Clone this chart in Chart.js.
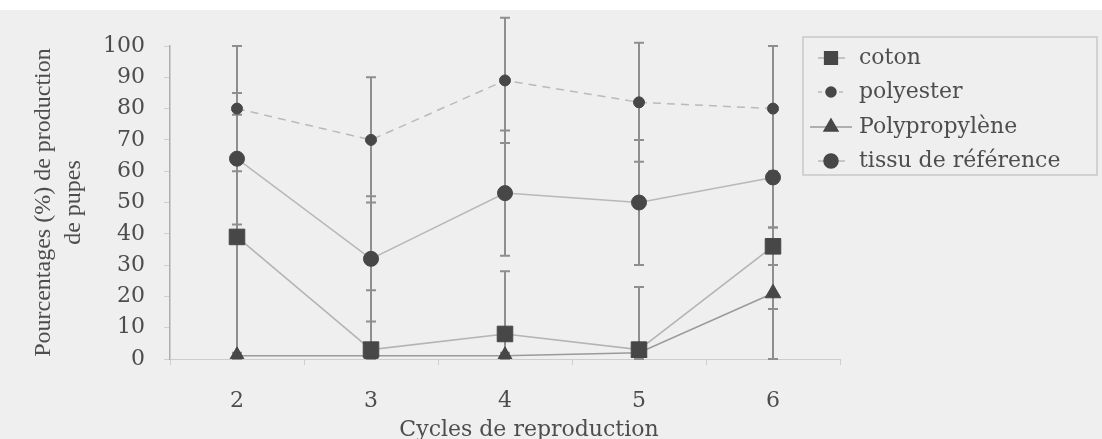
<!DOCTYPE html>
<html>
<head>
<meta charset="utf-8">
<script src="https://cdn.jsdelivr.net/npm/chart.js@4.4.1/dist/chart.umd.min.js"></script>
<style>
html,body{margin:0;padding:0;background:#efefef;overflow:hidden;}
canvas{display:block;}
</style>
</head>
<body>
<canvas id="c" width="1102" height="439"></canvas>
<script>
// ---- data ----
const categories = ['2', '3', '4', '5', '6'];
const coton = [39, 3, 8, 3, 36];
const polyester = [80, 70, 89, 82, 80];
const polypropylene = [1, 1, 1, 2, 21];
const reference = [64, 32, 53, 50, 58];
const cotonErr = [39, 19, 20, 20, 6];
const polyesterErr = [20, 20, 20, 19, 20];
const polypropyleneErr = [1, 1, 1, 1, 21];
const referenceErr = [21, 20, 20, 20, 42];
const seriesNames = ['coton', 'polyester', 'Polypropylène', 'tissu de référence'];
const yTitleLines = ['Pourcentages (%) de production', 'de pupes'];
const xTitle = 'Cycles de reproduction';

const TEXT = '#4d4d4d';
const MARK = '#474747';
const HFONT = "'DejaVu Serif', serif";
const VFONT = "'Liberation Serif', 'Times New Roman', serif";

const errorsByDataset = [cotonErr, polyesterErr, polypropyleneErr, referenceErr];

const bgPlugin = {
  id: 'bg',
  beforeDraw(chart) {
    const ctx = chart.ctx;
    ctx.save();
    ctx.fillStyle = '#efefef';
    ctx.fillRect(0, 0, chart.width, chart.height);
    ctx.fillStyle = '#ffffff';
    ctx.fillRect(0, 0, chart.width, 10);
    ctx.restore();
  }
};

const errPlugin = {
  id: 'errbars',
  beforeDatasetsDraw(chart) {
    const ctx = chart.ctx;
    const ys = chart.scales.y;
    ctx.save();
    ctx.strokeStyle = '#8e8e8e';
    ctx.lineWidth = 2;
    chart.data.datasets.forEach((ds, i) => {
      const meta = chart.getDatasetMeta(i);
      const errs = errorsByDataset[i];
      meta.data.forEach((pt, j) => {
        const v = ds.data[j], e = errs[j];
        const x = pt.x;
        const yHi = ys.getPixelForValue(v + e);
        const yLo = ys.getPixelForValue(Math.max(0, v - e));
        ctx.beginPath();
        ctx.moveTo(x, yHi); ctx.lineTo(x, yLo);
        ctx.moveTo(x - 5, yHi); ctx.lineTo(x + 5, yHi);
        ctx.moveTo(x - 5, yLo); ctx.lineTo(x + 5, yLo);
        ctx.stroke();
      });
    });
    ctx.restore();
  }
};

const xTitlePlugin = {
  id: 'xTitle',
  afterDraw(chart) {
    const ctx = chart.ctx;
    ctx.save();
    ctx.fillStyle = TEXT;
    ctx.font = '22px ' + HFONT;
    ctx.textAlign = 'center';
    ctx.textBaseline = 'middle';
    ctx.fillText(xTitle, 529, 430);
    ctx.restore();
  }
};

const legendPlugin = {
  id: 'customLegend',
  afterDraw(chart) {
    const ctx = chart.ctx;
    ctx.save();
    ctx.strokeStyle = '#c9c9c9';
    ctx.lineWidth = 1.5;
    ctx.strokeRect(803, 37, 294, 138);
    const rows = [58, 92, 127, 161];
    chart.data.datasets.forEach((ds, i) => {
      const y = rows[i];
      const mx = 831;
      if (ds.borderDash && ds.borderDash.length) ctx.setLineDash([4, 3]); else ctx.setLineDash([]);
      ctx.strokeStyle = ds.borderColor;
      ctx.lineWidth = 1.5;
      ctx.beginPath();
      ctx.moveTo(i === 2 ? 810 : 818, y);
      ctx.lineTo(i === 2 ? 852 : 845, y);
      ctx.stroke();
      ctx.setLineDash([]);
      ctx.fillStyle = MARK;
      ctx.strokeStyle = MARK;
      Chart.helpers.drawPoint(ctx, {
        pointStyle: ds.pointStyle,
        radius: ds.legendRadius,
        rotation: 0,
        borderWidth: 1
      }, mx, y);
      ctx.fill();
      ctx.fillStyle = TEXT;
      ctx.font = '22px ' + HFONT;
      ctx.textBaseline = 'middle';
      ctx.textAlign = 'left';
      ctx.fillText(ds.label, 859, y);
    });
    ctx.restore();
  }
};

const pointCommon = {
  pointBackgroundColor: MARK,
  pointBorderColor: MARK,
  pointBorderWidth: 1
};

new Chart(document.getElementById('c'), {
  type: 'line',
  data: {
    labels: categories,
    datasets: [
      Object.assign({
        label: seriesNames[0], data: coton,
        borderColor: '#b4b4b4', borderWidth: 1.5,
        pointStyle: 'rect', pointRadius: 11, legendRadius: 9
      }, pointCommon),
      Object.assign({
        label: seriesNames[1], data: polyester,
        borderColor: '#bababa', borderWidth: 1.5, borderDash: [8, 6],
        pointStyle: 'circle', pointRadius: 5.5, legendRadius: 5
      }, pointCommon),
      Object.assign({
        label: seriesNames[2], data: polypropylene,
        borderColor: '#9a9a9a', borderWidth: 1.5,
        pointStyle: 'triangle', pointRadius: 9, legendRadius: 8
      }, pointCommon),
      Object.assign({
        label: seriesNames[3], data: reference,
        borderColor: '#b8b8b8', borderWidth: 1.5,
        pointStyle: 'circle', pointRadius: 7.5, legendRadius: 7
      }, pointCommon)
    ]
  },
  options: {
    responsive: false,
    animation: false,
    devicePixelRatio: 1,
    layout: { padding: { left: 0, top: 46, right: 262, bottom: 0 } },
    plugins: {
      legend: { display: false },
      tooltip: { enabled: false }
    },
    scales: {
      x: {
        type: 'category',
        offset: true,
        afterFit(scale) { scale.height = 80; },
        grid: { display: true, drawOnChartArea: false, drawTicks: true, tickLength: 6, offset: true, color: 'rgba(150,150,150,0.35)' },
        border: { display: true, color: '#cdcdcd', width: 1 },
        ticks: { color: TEXT, font: { family: HFONT, size: 22 }, padding: 23, maxRotation: 0 },
        title: { display: false }
      },
      y: {
        min: 0, max: 100,
        afterFit(scale) { scale.width = 170; },
        grid: { display: true, drawOnChartArea: false, drawTicks: true, tickLength: 6, color: 'rgba(150,150,150,0.35)' },
        border: { display: true, color: '#adadad', width: 1.5 },
        ticks: { stepSize: 10, color: TEXT, font: { family: HFONT, size: 22 }, padding: 19 },
        title: { display: true, text: yTitleLines, color: TEXT, font: { family: VFONT, size: 24, lineHeight: 1.27 }, padding: { top: 28, bottom: 0 } }
      }
    }
  },
  plugins: [bgPlugin, errPlugin, xTitlePlugin, legendPlugin]
});
</script>
</body>
</html>
